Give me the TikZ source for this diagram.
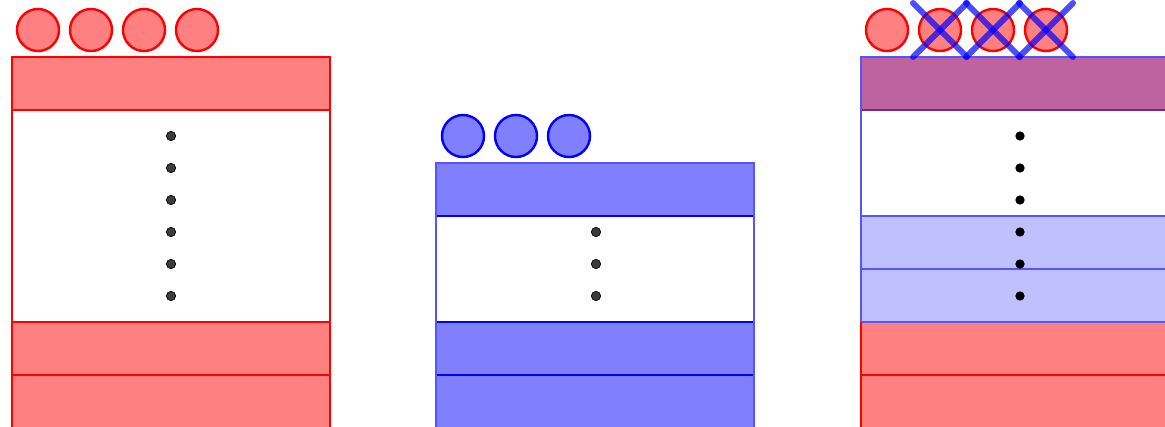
\documentclass[tikz,border=0pt]{standalone}
\definecolor{rfill}{RGB}{255,128,128}
\definecolor{bfill}{RGB}{128,128,255}
\definecolor{lbfill}{RGB}{192,192,255}
\definecolor{pfill}{RGB}{190,98,160}
\definecolor{pline}{RGB}{130,40,120}
\definecolor{bedge}{RGB}{85,85,255}
\definecolor{dotgray}{RGB}{60,60,60}
\begin{document}
\begin{tikzpicture}[x=0.75pt,y=-0.75pt,
  rcirc/.style={circle,draw=red,fill=rfill,line width=1.8pt,minimum size=31.5pt,inner sep=0pt},
  bcirc/.style={circle,draw=blue,fill=bfill,line width=1.8pt,minimum size=31.5pt,inner sep=0pt},
  gdot/.style={circle,fill=dotgray,draw=black,line width=0.5pt,minimum size=7pt,inner sep=0pt},
  kdot/.style={circle,fill=black,minimum size=7pt,inner sep=0pt},
  rrow/.style={fill=rfill,draw=red,line width=1.2pt},
  brow/.style={fill=bfill,draw=blue,line width=1.2pt},
  lbrow/.style={fill=lbfill,draw=bedge,line width=1.2pt},
  prow/.style={fill=pfill,draw=pline,line width=1.2pt},
  xline/.style={draw=blue,opacity=0.7,line width=4.5pt,line cap=round}]
\clip (0,0) rectangle (1165,426);
% ---------- left stack ----------
\foreach \i/\x in {1/38,2/91,3/144,4/197}
  \node[rcirc] (L\i) at (\x,30) {};
\fill[white] (12,110) rectangle (330,322);
\filldraw[rrow] (12,57) rectangle (330,110);
\filldraw[rrow] (12,322) rectangle (330,375);
\filldraw[rrow] (12,375) rectangle (330,428);
\draw[red,line width=1.8pt] (12,57) rectangle (330,428);
\foreach \i/\y in {1/136,2/168,3/200,4/232,5/264,6/296}
  \node[gdot] (Ld\i) at (171,\y) {};
% ---------- middle stack ----------
\foreach \i/\x in {1/463,2/516,3/569}
  \node[bcirc] (M\i) at (\x,136) {};
\fill[white] (436,216) rectangle (754,322);
\filldraw[brow] (436,163) rectangle (754,216);
\filldraw[brow] (436,322) rectangle (754,375);
\filldraw[brow] (436,375) rectangle (754,428);
\draw[bedge,line width=1.8pt] (436,163) rectangle (754,428);
\foreach \i/\y in {1/232,2/264,3/296}
  \node[gdot] (Md\i) at (596,\y) {};
% ---------- right stack ----------
\foreach \i/\x in {1/887,2/940,3/993,4/1046}
  \node[rcirc] (R\i) at (\x,30) {};
\fill[white] (861,110) rectangle (1179,216);
\filldraw[prow] (861,57) rectangle (1179,110);
\filldraw[lbrow] (861,216) rectangle (1179,269);
\filldraw[lbrow] (861,269) rectangle (1179,322);
\filldraw[rrow] (861,322) rectangle (1179,375);
\filldraw[rrow] (861,375) rectangle (1179,428);
\draw[bedge,line width=1.8pt] (861,322) -- (861,57) -- (1179,57);
\draw[bedge,line width=1.5pt] (861,322) -- (1179,322);
\draw[red,line width=1.8pt] (861,322) -- (861,428);
\foreach \i/\y in {1/136,2/168,3/200,4/232,5/264,6/296}
  \node[kdot] (Rd\i) at (1020,\y) {};
\foreach \i in {2,3,4} {
  \draw[xline] ([shift={(-27,-27)}]R\i.center) -- ([shift={(27,27)}]R\i.center);
  \draw[xline] ([shift={(-27,27)}]R\i.center) -- ([shift={(27,-27)}]R\i.center);
}
\end{tikzpicture}
\end{document}
